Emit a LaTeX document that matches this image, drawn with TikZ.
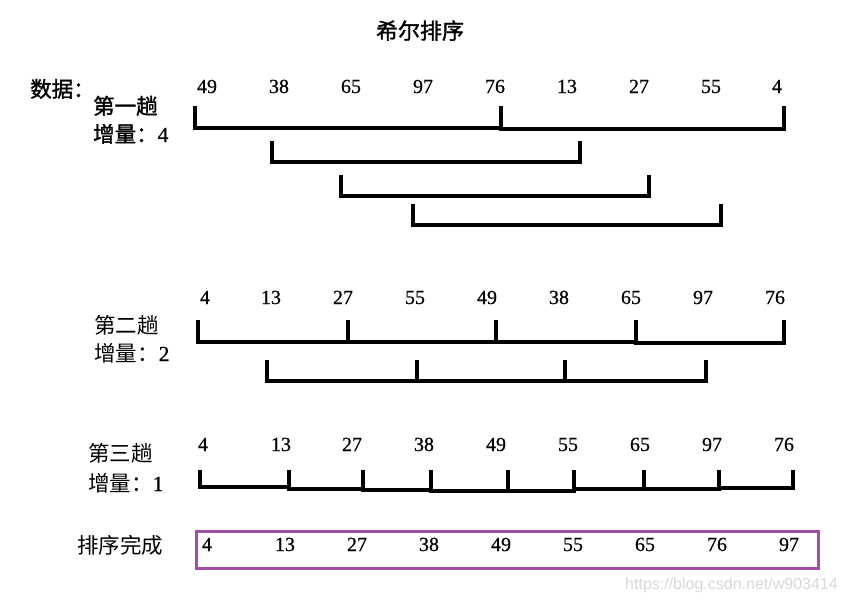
\documentclass[tikz,border=0pt]{standalone}
\usepackage{fontspec}
\setmainfont{Liberation Serif}
\newfontfamily\cjk{Noto Sans CJK SC}
\newfontfamily\cjkb[FakeBold=1.5]{Noto Sans CJK SC}
\newfontfamily\digits[FakeBold=0.6]{Liberation Serif}
\definecolor{boxpurple}{HTML}{A24FA6}
\definecolor{wmgray}{HTML}{D8D8D8}
\begin{document}
\begin{tikzpicture}[x=1pt,y=-1pt,
  num/.style={anchor=base,inner sep=0pt,font=\digits\fontsize{20}{20}\selectfont},
  lab/.style={anchor=base west,inner sep=0pt,font=\cjk\fontsize{21.5}{21.5}\selectfont},
  labb/.style={anchor=base west,inner sep=0pt,font=\cjkb\fontsize{21.5}{21.5}\selectfont},
  brk/.style={line width=3.3pt,line cap=rect,line join=miter}]
\useasboundingbox (0,0) rectangle (846,603);
% title
\node[anchor=base,inner sep=0pt,font=\cjkb\fontsize{22}{22}\selectfont] (title) at (420,39) {希尔排序};
% labels
\node[labb] (data) at (30,97) {数据：};
\node[labb] (p1a) at (93,114) {第一趟};
\node[labb] (p1b) at (93,142) {增量：\digits 4};
\node[lab] (p2a) at (94,333) {第二趟};
\node[lab] (p2b) at (94,361) {增量：\digits 2};
\node[lab] (p3a) at (88,461) {第三趟};
\node[lab] (p3b) at (88,491) {增量：\digits 1};
\node[lab] (done) at (77,553) {排序完成};
% row 1 numbers
\foreach \v/\x [count=\i] in {49/207,38/279,65/351,97/423,76/495,13/567,27/639,55/711,4/777}
  \node[num] (a\i) at (\x,93) {\v};
% row 1 brackets
\draw[brk] (195,108) -- (195,128) -- (501,128) -- (501,108);
\draw[brk] (501,129) -- (784,129) -- (784,108);
\draw[brk] (272,143) -- (272,162) -- (580,162) -- (580,143);
\draw[brk] (341,177) -- (341,196) -- (649,196) -- (649,177);
\draw[brk] (413,206) -- (413,225) -- (721,225) -- (721,206);
% row 2 numbers
\foreach \v/\x [count=\i] in {4/205,13/271,27/343,55/415,49/487,38/559,65/631,97/703,76/775}
  \node[num] (b\i) at (\x,304) {\v};
% row 2 brackets
\draw[brk] (198,322) -- (198,342) -- (636,342);
\draw[brk] (348,322) -- (348,342);
\draw[brk] (496,322) -- (496,342);
\draw[brk] (636,322) -- (636,343) -- (784,343) -- (784,322);
\draw[brk] (267,362) -- (267,381) -- (706,381) -- (706,362);
\draw[brk] (417,362) -- (417,381);
\draw[brk] (565,362) -- (565,381);
% row 3 numbers
\foreach \v/\x [count=\i] in {4/203,13/281,27/352,38/424,49/496,55/568,65/640,97/712,76/784}
  \node[num] (c\i) at (\x,451) {\v};
% row 3 brackets
\draw[brk] (200,472) -- (200,487) -- (289,487);
\draw[brk] (289,472) -- (289,489) -- (363,489);
\draw[brk] (363,472) -- (363,490) -- (431,490);
\draw[brk] (431,472) -- (431,491) -- (574,491);
\draw[brk] (508,472) -- (508,490);
\draw[brk] (574,472) -- (574,489) -- (719,489);
\draw[brk] (644,472) -- (644,489);
\draw[brk] (719,472) -- (719,488) -- (793,488) -- (793,472);
% final
\node[draw=boxpurple,line width=3pt,inner sep=0pt,minimum width=622pt,minimum height=37pt,anchor=north west] (box) at (195,530) {};
\foreach \v/\x [count=\i] in {4/207,13/285,27/357,38/429,49/501,55/573,65/645,76/717,97/789}
  \node[num] (d\i) at (\x,551) {\v};
% watermark
\node[anchor=base east,inner sep=0pt,text=wmgray,font=\fontspec{Liberation Sans}\fontsize{16}{16}\selectfont] (wm) at (838,589) {https://blog.csdn.net/w903414};
\end{tikzpicture}
\end{document}
